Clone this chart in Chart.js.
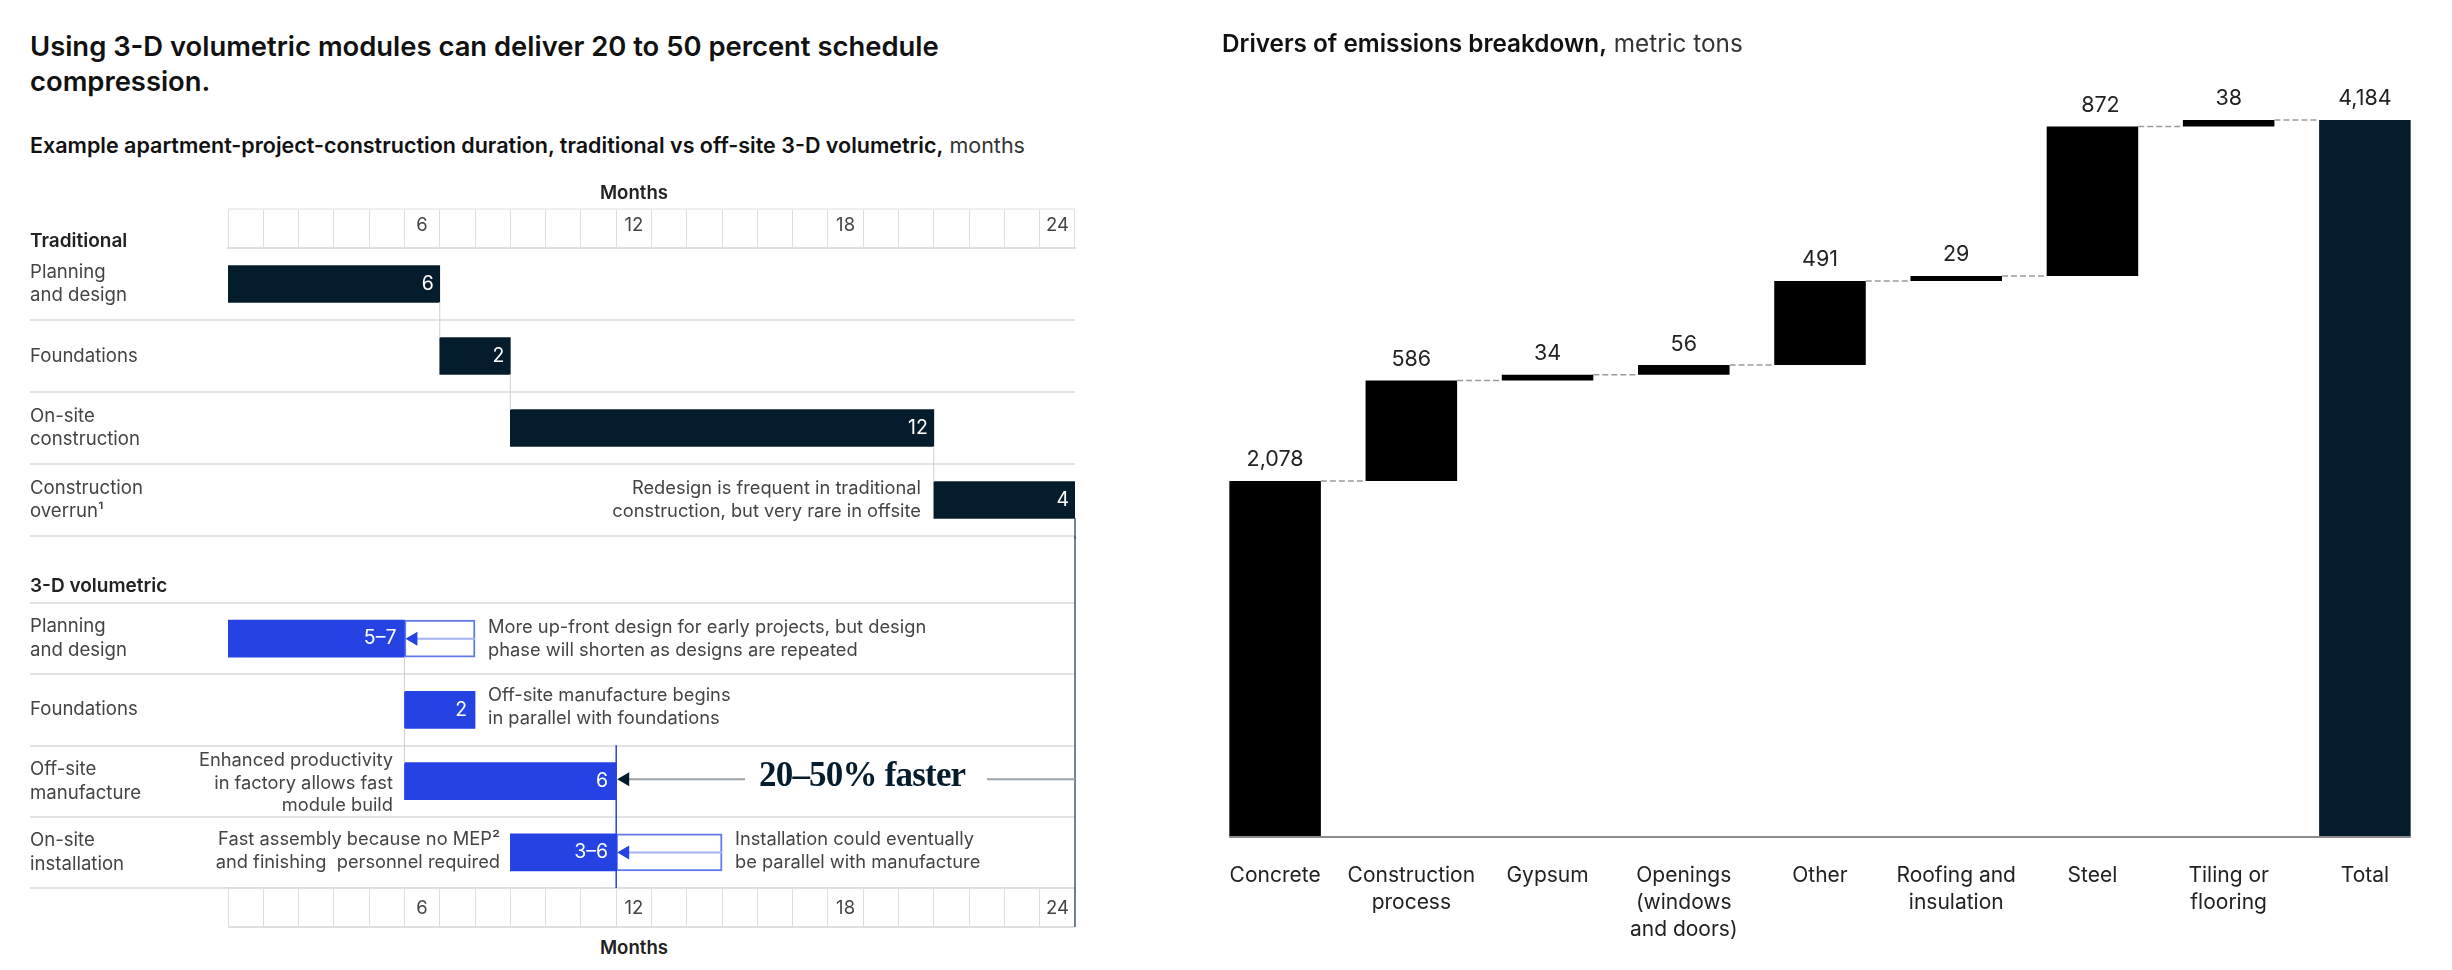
<!DOCTYPE html>
<html>
<head>
<meta charset="utf-8">
<script src="https://cdn.jsdelivr.net/npm/chart.js@4"></script>
<style>
html, body { margin: 0; padding: 0; background: #fff; }
body { position: relative; width: 2452px; height: 970px; overflow: hidden; font-family: Inter, sans-serif; color: #222; }
canvas { position: absolute; display: block; }
.t { position: absolute; white-space: pre; z-index: 5; }
.title { left: 30px; top: 29px; font-size: 27.4px; line-height: 35px; font-weight: 600; color: #111; }
.sub { font-size: 21.5px; line-height: 28px; font-weight: 600; color: #111; }
.sub span { font-weight: 400; color: #333; }
.sub.big { font-size: 24.3px; line-height: 32px; font-weight: 600; }
.sec { left: 30px; font-size: 19px; line-height: 22px; font-weight: 600; color: #222; }
.months { left: 634px; transform: translateX(-50%); font-size: 18.6px; line-height: 22px; font-weight: 600; color: #222; }
.note { font-size: 18.3px; line-height: 22.6px; color: #444; }
.r { text-align: right; }
.faster { left: 759px; top: 755px; font-family: "Liberation Serif", serif; font-weight: 700; font-size: 35px; line-height: 40px; letter-spacing: -0.8px; color: #051c2c; }
</style>
</head>
<body>
<div class="t title">Using 3-D volumetric modules can deliver 20 to 50 percent schedule
compression.</div>
<div class="t sub" style="left:30px;top:131px">Example apartment-project-construction duration, traditional vs off-site 3-D volumetric,<span> months</span></div>
<div class="t months" style="top:181px">Months</div>
<div class="t sec" style="top:230px">Traditional</div>
<div class="t sec" style="top:575px">3-D volumetric</div>
<div class="t months" style="top:936px">Months</div>

<div class="t note r" style="right:1531px;top:476px">Redesign is frequent in traditional
construction, but very rare in offsite</div>
<div class="t note" style="left:488px;top:615px">More up-front design for early projects, but design
phase will shorten as designs are repeated</div>
<div class="t note" style="left:488px;top:683px">Off-site manufacture begins
in parallel with foundations</div>
<div class="t note r" style="right:2059px;top:748px">Enhanced productivity
in factory allows fast
module build</div>
<div class="t note r" style="right:1952px;top:827px">Fast assembly because no MEP²
and finishing  personnel required</div>
<div class="t note" style="left:735px;top:827px">Installation could eventually
be parallel with manufacture</div>
<div class="t faster">20–50% faster</div>

<div class="t sub big" style="left:1222px;top:27px">Drivers of emissions breakdown,<span> metric tons</span></div>

<canvas id="chart-traditional" width="1100" height="339" style="left:0;top:200px"></canvas>
<canvas id="chart-volumetric" width="1100" height="394" style="left:0;top:536px"></canvas>
<canvas id="chart-emissions" width="1262" height="970" style="left:1190px;top:0"></canvas>

<script>
// Data
const monthLabels = ['', '', '', '', '', '6', '', '', '', '', '', '12', '', '', '', '', '', '18', '', '', '', '', '', '24'];

const traditionalRows = [['Planning', 'and design'], 'Foundations', ['On-site', 'construction'], ['Construction', 'overrun¹']];
const traditionalStart = [0, 6, 8, 20];
const traditionalEnd = [6, 8, 20, 24];
const traditionalLabels = ['6', '2', '12', '4'];

const volumetricRows = [['Planning', 'and design'], 'Foundations', ['Off-site', 'manufacture'], ['On-site', 'installation']];
const volumetricStart = [0, 5, 5, 8];
const volumetricEnd = [5, 7, 11, 11];
const volumetricRangeEnd = [7, null, null, 14];
const volumetricLabels = ['5–7', '2', '6', '3–6'];

const emissionCategories = ['Concrete', ['Construction', 'process'], 'Gypsum', ['Openings', '(windows', 'and doors)'], 'Other', ['Roofing and', 'insulation'], 'Steel', ['Tiling or', 'flooring'], 'Total'];
const emissionValues = [2078, 586, 34, 56, 491, 29, 872, 38];
const emissionTotal = 4184;

// Colors
const NAVY = '#051c2c';
const BLUE = '#2542e3';
const BLUE_EDGE = '#6279ee';
const LIGHT_BLUE = '#a3b1f5';
const GRID = '#e3e3e3';
const FONT = 'Inter';

Chart.defaults.font.family = FONT;
Chart.defaults.animation = false;
Chart.defaults.responsive = false;
Chart.defaults.plugins.legend.display = false;
Chart.defaults.plugins.tooltip.enabled = false;

function line(ctx, x1, y1, x2, y2, color, width, dash) {
    ctx.save();
    ctx.strokeStyle = color;
    ctx.lineWidth = width;
    ctx.setLineDash(dash || []);
    ctx.beginPath();
    ctx.moveTo(x1, y1);
    ctx.lineTo(x2, y2);
    ctx.stroke();
    ctx.restore();
}

function arrowHead(ctx, tipX, y, color) {
    ctx.save();
    ctx.fillStyle = color;
    ctx.beginPath();
    ctx.moveTo(tipX, y);
    ctx.lineTo(tipX + 12, y - 7);
    ctx.lineTo(tipX + 12, y + 7);
    ctx.closePath();
    ctx.fill();
    ctx.restore();
}

function barLabels(chart, labels, inset) {
    const ctx = chart.ctx;
    const bars = chart.getDatasetMeta(0).data;
    ctx.save();
    ctx.fillStyle = '#fff';
    ctx.font = '19.5px ' + FONT;
    ctx.textAlign = 'right';
    ctx.textBaseline = 'middle';
    bars.forEach((bar, i) => ctx.fillText(labels[i], bar.x - inset, bar.y));
    ctx.restore();
}

function ganttOptions(axisPosition, tickPadding, rowGridColor, padding) {
    return {
        indexAxis: 'y',
        layout: { padding },
        scales: {
            x: { type: 'linear', min: 0, max: 24, display: false },
            months: {
                axis: 'x',
                type: 'category',
                labels: monthLabels,
                position: axisPosition,
                offset: true,
                grid: { offset: true, drawOnChartArea: false, color: '#dedede', tickLength: 39, tickWidth: 1 },
                border: { color: '#dedede', width: 2 },
                ticks: { autoSkip: false, maxRotation: 0, padding: tickPadding, color: '#444', font: { size: 18.5 } },
                afterFit(scale) { scale.height = 39; }
            },
            y: {
                grid: { offset: true, color: rowGridColor, lineWidth: 2, tickLength: 198, drawTicks: true },
                border: { display: false },
                ticks: { autoSkip: false, crossAlign: 'far', color: '#444', font: { size: 18.6, lineHeight: 1.28 } },
                afterFit(scale) {
                    scale.width = 198;
                    // the multi-line row labels must not shrink the plot area
                    scale.paddingTop = 0;
                    scale.paddingBottom = 0;
                }
            }
        }
    };
}

// Traditional chart
new Chart(document.getElementById('chart-traditional'), {
    type: 'bar',
    data: {
        labels: traditionalRows,
        datasets: [{
            data: traditionalStart.map((s, i) => [s, traditionalEnd[i]]),
            backgroundColor: NAVY,
            barThickness: 37
        }]
    },
    options: ganttOptions('top', -28, c => (c.index === 0 ? 'rgba(0,0,0,0)' : GRID), { left: 30, right: 25, top: 9, bottom: 3 }),
    plugins: [{
        id: 'traditionalExtras',
        afterDatasetsDraw(chart) {
            const { ctx, scales: { x, months } } = chart;
            const bars = chart.getDatasetMeta(0).data;
            line(ctx, months.left, months.top, months.right, months.top, '#e8e8e8', 1.5);
            for (let i = 0; i < bars.length - 1; i++) {
                const px = x.getPixelForValue(traditionalEnd[i]);
                line(ctx, px, bars[i].y + 18, px, bars[i + 1].y - 18, '#cfcfcf', 1);
            }
            const last = bars[bars.length - 1];
            line(ctx, x.getPixelForValue(24), last.y + 18, x.getPixelForValue(24), chart.height, '#4d5a68', 1.5);
            barLabels(chart, traditionalLabels, 6);
        }
    }]
});

// 3-D volumetric chart
new Chart(document.getElementById('chart-volumetric'), {
    type: 'bar',
    data: {
        labels: volumetricRows,
        datasets: [{
            data: volumetricStart.map((s, i) => [s, volumetricEnd[i]]),
            backgroundColor: BLUE,
            barThickness: 37,
            grouped: false,
            order: 1
        }, {
            data: volumetricRangeEnd.map((e, i) => (e === null ? null : [volumetricEnd[i], e])),
            backgroundColor: '#fff',
            borderColor: BLUE_EDGE,
            borderWidth: 2,
            borderSkipped: false,
            barThickness: 37,
            grouped: false,
            order: 2
        }]
    },
    options: ganttOptions('bottom', -30, c => (c.index === 4 ? 'rgba(0,0,0,0)' : GRID), { left: 30, right: 25, top: 67, bottom: 3 }),
    plugins: [{
        id: 'volumetricExtras',
        afterDatasetsDraw(chart) {
            const { ctx, chartArea, scales: { x, months } } = chart;
            const bars = chart.getDatasetMeta(0).data;
            line(ctx, months.left, months.bottom, months.right, months.bottom, '#dedede', 2);
            // connectors between the first rows
            for (let i = 0; i < 2; i++) {
                const px = x.getPixelForValue(volumetricStart[i + 1]);
                line(ctx, px, bars[i].y + 18, px, bars[i + 1].y - 18, '#cfcfcf', 1);
            }
            // end of the 3-D schedule
            const endPx = x.getPixelForValue(volumetricEnd[2]);
            line(ctx, endPx, bars[2].y - 36, endPx, chartArea.bottom, BLUE, 1.5);
            // traditional end line
            const x24 = x.getPixelForValue(24);
            line(ctx, x24, 0, x24, months.bottom, '#4d5a68', 1.5);
            // range arrows inside the hollow bars
            volumetricRangeEnd.forEach((e, i) => {
                if (e === null) return;
                const tip = x.getPixelForValue(volumetricEnd[i]);
                line(ctx, tip + 10, bars[i].y, x.getPixelForValue(e), bars[i].y, LIGHT_BLUE, 2);
                arrowHead(ctx, tip + 1, bars[i].y, BLUE);
            });
            // 20-50% faster arrow
            const arrowY = bars[2].y - 2;
            line(ctx, endPx + 10, arrowY, 745, arrowY, '#9aa3a8', 2);
            line(ctx, 987, arrowY, x24, arrowY, '#9aa3a8', 2);
            arrowHead(ctx, endPx + 1, arrowY, NAVY);
            barLabels(chart, volumetricLabels, 8);
        }
    }]
});

// Waterfall chart
const emissionFloors = [];
emissionValues.reduce((sum, v) => { emissionFloors.push(sum); return sum + v; }, 0);

new Chart(document.getElementById('chart-emissions'), {
    type: 'bar',
    data: {
        labels: emissionCategories,
        datasets: [{
            data: emissionValues.map((v, i) => [emissionFloors[i], emissionFloors[i] + v]).concat([[0, emissionTotal]]),
            backgroundColor: emissionCategories.map((c, i) => (i === emissionCategories.length - 1 ? NAVY : '#000')),
            barPercentage: 0.672,
            categoryPercentage: 1
        }]
    },
    options: {
        layout: { padding: { left: 17, right: 19, top: 120, bottom: 0 } },
        scales: {
            x: {
                grid: { display: false },
                border: { display: false },
                ticks: { autoSkip: false, maxRotation: 0, padding: 17, color: '#222', font: { size: 21, lineHeight: 1.29 } },
                afterFit(scale) { scale.height = 133; }
            },
            y: { min: 0, max: emissionTotal, display: false }
        }
    },
    plugins: [{
        id: 'waterfallExtras',
        afterDatasetsDraw(chart) {
            const { ctx, scales: { y } } = chart;
            const bars = chart.getDatasetMeta(0).data;
            const half = bars[0].width / 2;
            line(ctx, bars[0].x - half, y.getPixelForValue(0), bars[bars.length - 1].x + half, y.getPixelForValue(0), '#8c8c8c', 2);
            const tops = emissionValues.map((v, i) => emissionFloors[i] + v);
            bars.forEach((bar, i) => {
                if (i < tops.length) {
                    const py = y.getPixelForValue(tops[i]);
                    line(ctx, bar.x + half, py, bars[i + 1].x - half, py, '#9a9a9a', 1.5, [6, 3]);
                }
            });
            ctx.save();
            ctx.fillStyle = '#222';
            ctx.font = '21.5px ' + FONT;
            ctx.textAlign = 'center';
            ctx.textBaseline = 'middle';
            bars.forEach((bar, i) => {
                const value = i < emissionValues.length ? emissionValues[i] : emissionTotal;
                const top = i < tops.length ? tops[i] : emissionTotal;
                // the steel label sits a little right of its bar in the original
                const nudge = i === 6 ? 8 : 0;
                ctx.fillText(value.toLocaleString('en-US'), bar.x + nudge, y.getPixelForValue(top) - 21);
            });
            ctx.restore();
        }
    }]
});
</script>
</body>
</html>
